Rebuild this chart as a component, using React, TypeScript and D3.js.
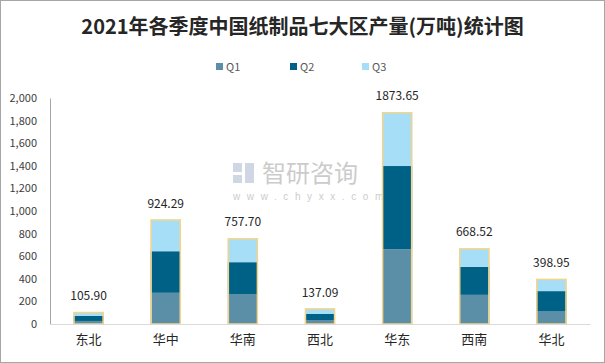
import React, { useEffect, useRef } from 'react';
import * as d3 from 'd3';

const regions = ['东北', '华中', '华南', '西北', '华东', '西南', '华北'];
const q1 = [27, 276, 265, 35, 662, 258, 115];
const q2 = [44, 368, 282, 56, 736, 248, 176];
const totals = [105.9, 924.29, 757.7, 137.09, 1873.65, 668.52, 398.95];
const q3 = totals.map((t, i) => +(t - q1[i] - q2[i]).toFixed(2));
const seriesNames = ['Q1', 'Q2', 'Q3'];
const yTicks = [0, 200, 400, 600, 800, 1000, 1200, 1400, 1600, 1800, 2000];

const colors = ['#5b8fa8', '#006186', '#a7def7'];

const App = () => {
  const ref = useRef<SVGSVGElement>(null);

  useEffect(() => {
    const width = 605;
    const height = 363;
    const margin = { top: 98, right: 15, bottom: 39, left: 50 };

    const svg = d3.select(ref.current);
    svg.selectAll('*').remove();

    // outer frame
    svg
      .append('rect')
      .attr('x', 0.5)
      .attr('y', 0.5)
      .attr('width', width - 1)
      .attr('height', height - 1)
      .attr('fill', '#fff')
      .attr('stroke', '#a6a6a6');

    // title
    svg
      .append('text')
      .attr('x', width / 2)
      .attr('y', 34)
      .attr('text-anchor', 'middle')
      .attr('font-family', '"Noto Sans CJK SC", serif')
      .attr('font-weight', 'bold')
      .attr('font-size', 20)
      .attr('fill', '#262626')
      .text('2021年各季度中国纸制品七大区产量(万吨)统计图');

    // legend
    const legendX = [216, 290, 362];
    seriesNames.forEach((name, i) => {
      const g = svg.append('g').attr('transform', `translate(${legendX[i]},63)`);
      g.append('rect').attr('width', 7).attr('height', 7).attr('fill', colors[i]);
      g.append('text')
        .attr('x', 10)
        .attr('y', 7.5)
        .attr('font-family', '"Noto Sans CJK SC", sans-serif')
        .attr('font-size', 11)
        .attr('fill', '#595959')
        .text(name);
    });

    // watermark
    const wm = svg.append('g').attr('opacity', 0.5);
    wm.append('rect').attr('x', 233).attr('y', 163).attr('width', 9).attr('height', 9).attr('fill', '#9fb0c8');
    wm.append('rect').attr('x', 245).attr('y', 163).attr('width', 9).attr('height', 20).attr('fill', '#9fb0c8');
    wm.append('rect').attr('x', 233).attr('y', 175).attr('width', 9).attr('height', 8).attr('fill', '#9fb0c8');
    wm.append('text')
      .attr('x', 262)
      .attr('y', 182)
      .attr('font-family', '"Noto Sans CJK SC", sans-serif')
      .attr('font-size', 24)
      .attr('fill', '#999')
      .text('智研咨询');
    wm.append('text')
      .attr('x', 233)
      .attr('y', 200)
      .attr('font-family', 'Arial, sans-serif')
      .attr('font-size', 10)
      .attr('letter-spacing', 6.6)
      .attr('fill', '#999')
      .text('www.chyxx.com');

    const x = d3
      .scaleBand()
      .domain(regions)
      .range([margin.left, width - margin.right])
      .paddingInner(0.61)
      .paddingOuter(0.305);

    const y = d3
      .scaleLinear()
      .domain([0, 2000])
      .range([height - margin.bottom, margin.top]);

    // y axis
    const yAxis = d3
      .axisLeft(y)
      .tickValues(yTicks)
      .tickFormat(d3.format(','))
      .tickSize(0)
      .tickPadding(13);
    const ya = svg.append('g').attr('transform', `translate(${margin.left},0)`).call(yAxis);
    ya.select('.domain').attr('stroke', '#a6a6a6');
    ya.selectAll('text')
      .attr('font-family', '"Noto Sans CJK SC", sans-serif')
      .attr('font-size', 11)
      .attr('fill', '#404040');

    // stacked bars
    const rows = regions.map((r, i) => ({ region: r, Q1: q1[i], Q2: q2[i], Q3: q3[i] }));
    const stack = d3.stack<any>().keys(seriesNames)(rows);

    svg
      .append('g')
      .selectAll('g')
      .data(stack)
      .join('g')
      .attr('fill', (d, i) => colors[i])
      .selectAll('rect')
      .data((d) => d)
      .join('rect')
      .attr('x', (d) => x(d.data.region)!)
      .attr('width', x.bandwidth())
      .attr('y', (d) => y(d[1]))
      .attr('height', (d) => y(d[0]) - y(d[1]));

    // total outline
    svg
      .append('g')
      .selectAll('rect')
      .data(totals)
      .join('rect')
      .attr('x', (d, i) => x(regions[i])! + 0.5)
      .attr('width', x.bandwidth() - 1)
      .attr('y', (d) => y(d) + 0.5)
      .attr('height', (d) => y(0) - y(d) - 0.5)
      .attr('fill', 'none')
      .attr('stroke', '#f5d48a')
      .attr('stroke-width', 1.5);

    // total labels
    svg
      .append('g')
      .selectAll('text')
      .data(totals)
      .join('text')
      .attr('x', (d, i) => x(regions[i])! + x.bandwidth() / 2)
      .attr('y', (d) => y(d) - 12)
      .attr('text-anchor', 'middle')
      .attr('font-family', '"Noto Sans CJK SC", sans-serif')
      .attr('font-size', 12)
      .attr('fill', '#262626')
      .text((d) => d.toFixed(2));

    // x axis
    const xa = svg
      .append('g')
      .attr('transform', `translate(0,${height - margin.bottom})`)
      .call(d3.axisBottom(x).tickSize(0).tickPadding(11));
    xa.select('.domain').attr('stroke', '#d9d9d9');
    xa.selectAll('text')
      .attr('font-family', '"Noto Sans CJK SC", sans-serif')
      .attr('font-size', 13)
      .attr('fill', '#262626');
  }, []);

  return (
    <div style={{ position: 'absolute', left: 0, top: 0 }}>
      <svg ref={ref} width={605} height={363} style={{ display: 'block' }} />
    </div>
  );
};

export default App;
